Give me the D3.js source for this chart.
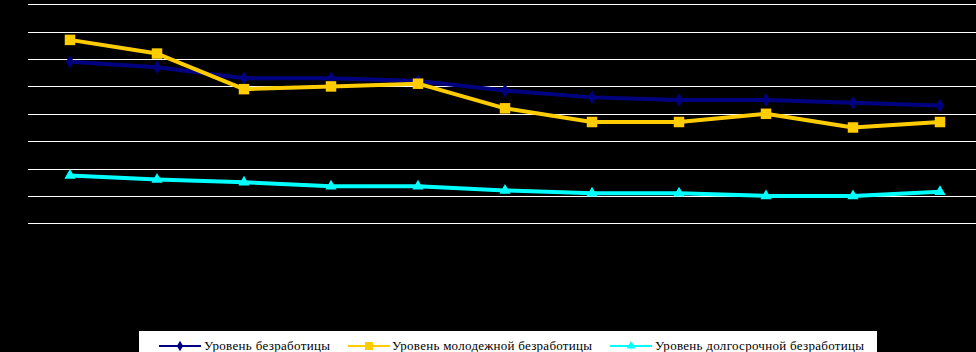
<!DOCTYPE html>
<html>
<head>
<meta charset="utf-8">
<script src="https://cdn.jsdelivr.net/npm/d3@7"></script>
<style>
  body { margin: 0; background: #000; }
  svg { display: block; }
</style>
</head>
<body>
<div id="chart"></div>
<script>
// data
var years = ["2000", "2001", "2002", "2003", "2004", "2005", "2006", "2007", "2008", "2009", "2010"];
var unemployment = [11.8, 11.4, 10.6, 10.6, 10.4, 9.7, 9.2, 9.0, 9.0, 8.8, 8.6];
var youthUnemployment = [13.4, 12.4, 9.8, 10.0, 10.2, 8.4, 7.4, 7.4, 8.0, 7.0, 7.4];
var longTermUnemployment = [3.5, 3.2, 3.0, 2.7, 2.7, 2.4, 2.2, 2.2, 2.0, 2.0, 2.3];
var seriesNames = ["Уровень безработицы", "Уровень молодежной безработицы", "Уровень долгосрочной безработицы"];
var yTicks = [0, 2, 4, 6, 8, 10, 12, 14, 16];

var W = 976, H = 352;
var plotLeft = 28, plotTop = 4.3, plotBottom = 223.3;

var svg = d3.select("#chart")
  .append("svg")
    .attr("width", W)
    .attr("height", H);

svg.append("rect")
  .attr("width", W).attr("height", H)
  .attr("fill", "#000");

var x = d3.scalePoint()
  .domain(years)
  .range([70, 940]);

var y = d3.scaleLinear()
  .domain([0, 16])
  .range([plotBottom, plotTop]);

// gridlines
svg.append("g")
  .selectAll("line")
  .data(yTicks)
  .enter()
  .append("line")
    .attr("x1", plotLeft)
    .attr("x2", W)
    .attr("y1", function(d) { return Math.round(y(d)) + 0.5; })
    .attr("y2", function(d) { return Math.round(y(d)) + 0.5; })
    .attr("stroke", "#fff")
    .attr("stroke-width", 1.2);

// axes (labels are black, like the original)
var yAxis = svg.append("g")
  .attr("transform", "translate(" + plotLeft + ",0)")
  .call(d3.axisLeft(y).tickValues(yTicks).tickSize(0));
yAxis.select(".domain").remove();
yAxis.selectAll("text")
  .attr("dy", "0.7em")
  .attr("fill", "#000")
  .style("font-family", "Liberation Serif")
  .style("font-size", "11px");

var xAxis = svg.append("g")
  .attr("transform", "translate(0," + plotBottom + ")")
  .call(d3.axisBottom(x).tickSize(0));
xAxis.select(".domain").remove();
xAxis.selectAll("text")
  .attr("fill", "#000")
  .style("font-family", "Liberation Serif")
  .style("font-size", "11px");

var series = [
  { name: seriesNames[0], values: unemployment, color: "#000080", symbol: d3.symbolDiamond, size: 55 },
  { name: seriesNames[1], values: youthUnemployment, color: "#FFCC00", symbol: d3.symbolSquare, size: 110 },
  { name: seriesNames[2], values: longTermUnemployment, color: "#00FFFF", symbol: d3.symbolTriangle, size: 55 }
];

var line = d3.line()
  .x(function(d, i) { return x(years[i]); })
  .y(function(d) { return y(d); });

series.forEach(function(s) {
  svg.append("path")
    .datum(s.values)
    .attr("fill", "none")
    .attr("stroke", s.color)
    .attr("stroke-width", 4)
    .attr("stroke-linejoin", "round")
    .attr("d", line);

  svg.append("g")
    .selectAll("path")
    .data(s.values)
    .enter()
    .append("path")
      .attr("d", d3.symbol().type(s.symbol).size(s.size))
      .attr("transform", function(d, i) {
        return "translate(" + x(years[i]) + "," + y(d) + ")";
      })
      .attr("fill", s.color);
});

// legend
var legend = svg.append("g");
legend.append("rect")
  .attr("x", 139).attr("y", 331)
  .attr("width", 738).attr("height", 30)
  .attr("fill", "#fff");

var legendItems = [
  { lineX: 159, textX: 204, textW: 126 },
  { lineX: 348, textX: 392, textW: 200 },
  { lineX: 610, textX: 655, textW: 209 }
];

series.forEach(function(s, i) {
  var it = legendItems[i];
  var g = legend.append("g");
  g.append("line")
    .attr("x1", it.lineX).attr("x2", it.lineX + 42)
    .attr("y1", 346).attr("y2", 346)
    .attr("stroke", s.color)
    .attr("stroke-width", 2);
  g.append("path")
    .attr("d", d3.symbol().type(s.symbol).size(s.size * 0.6))
    .attr("transform", "translate(" + (it.lineX + 21) + ",346)")
    .attr("fill", s.color);
  g.append("text")
    .attr("x", it.textX)
    .attr("y", 350)
    .attr("textLength", it.textW)
    .attr("lengthAdjust", "spacing")
    .style("font-family", "Liberation Serif")
    .style("font-size", "13px")
    .attr("fill", "#000")
    .text(s.name);
});
</script>
</body>
</html>
